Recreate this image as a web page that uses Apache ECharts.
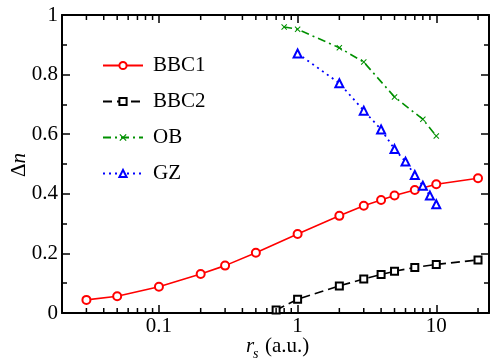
<!DOCTYPE html>
<html>
<head>
<meta charset="utf-8">
<script src="https://cdn.jsdelivr.net/npm/echarts@6/dist/echarts.min.js"></script>
<style>html,body{margin:0;padding:0;background:#fff}#c{width:490px;height:360px}</style>
</head>
<body>
<div id="c"></div>
<script>
// ---- data ----
var bbc1X = [0.03, 0.05, 0.1, 0.2, 0.3, 0.5, 1, 2, 3, 4, 5, 7, 10, 20];
var bbc1Y = [0.044, 0.056, 0.088, 0.131, 0.159, 0.202, 0.265, 0.326, 0.360, 0.379, 0.394, 0.413, 0.432, 0.452];
var bbc2X = [0.7, 1, 2, 3, 4, 5, 7, 10, 20];
var bbc2Y = [0.010, 0.046, 0.091, 0.114, 0.129, 0.140, 0.153, 0.163, 0.178];
var obX = [0.8, 1, 2, 3, 5, 8, 10];
var obY = [0.960, 0.952, 0.890, 0.842, 0.725, 0.650, 0.594];
var gzX = [1, 2, 3, 4, 5, 6, 7, 8, 9, 10];
var gzY = [0.871, 0.771, 0.679, 0.616, 0.550, 0.508, 0.463, 0.427, 0.394, 0.365];
var seriesNames = ['BBC1', 'BBC2', 'OB', 'GZ'];
var xTickValues = [0.1, 1, 10];
var xTickLabels = ['0.1', '1', '10'];
var xMinorTicks = [0.03, 0.04, 0.05, 0.06, 0.07, 0.08, 0.09, 0.2, 0.3, 0.4, 0.5, 0.6, 0.7, 0.8, 0.9, 2, 3, 4, 5, 6, 7, 8, 9, 20];
var yTickValues = [0, 0.2, 0.4, 0.6, 0.8, 1];
var yTickLabels = ['0', '0.2', '0.4', '0.6', '0.8', '1'];

function zip(xs, ys) { return xs.map(function (x, i) { return [x, ys[i]]; }); }

var FONT = 'Liberation Serif';
var chart = echarts.init(document.getElementById('c'), null, { renderer: 'canvas' });

function xFmt(v) {
  for (var i = 0; i < xTickValues.length; i++) {
    if (Math.abs(Math.log10(v) - Math.log10(xTickValues[i])) < 1e-6) return xTickLabels[i];
  }
  return '';
}
function yFmt(v) {
  for (var i = 0; i < yTickValues.length; i++) {
    if (Math.abs(v - yTickValues[i]) < 1e-6) return yTickLabels[i];
  }
  return '';
}

var axisLine = { show: true, onZero: false, lineStyle: { color: '#000', width: 2 } };
var xPath = 'path://M0,1.2 L1.2,0 L5,3.8 L8.8,0 L10,1.2 L6.2,5 L10,8.8 L8.8,10 L5,6.2 L1.2,10 L0,8.8 L3.8,5 Z';

var option = {
  animation: false,
  backgroundColor: '#fff',
  grid: { left: 62, right: 1, top: 15, bottom: 47, containLabel: false },
  legend: {
    data: seriesNames,
    orient: 'vertical',
    left: 97,
    top: 50,
    itemWidth: 40,
    itemHeight: 9,
    itemGap: 15,
    textStyle: { fontFamily: FONT, fontSize: 21, color: '#000', padding: [0, 0, 0, 5] }
  },
  xAxis: [
    {
      type: 'log', logBase: 10, min: 0.02, max: 24, position: 'bottom',
      axisLine: axisLine,
      axisTick: { show: true, inside: true, length: 8, lineStyle: { color: '#000', width: 1.5 } },
      axisLabel: { formatter: xFmt, fontFamily: FONT, fontSize: 21, color: '#000', margin: 3, showMinLabel: false, showMaxLabel: false },
      splitLine: { show: false }
    },
    {
      type: 'log', logBase: 10, min: 0.02, max: 24, position: 'top',
      axisLine: axisLine,
      axisTick: { show: true, inside: true, length: 8, lineStyle: { color: '#000', width: 1.5 } },
      axisLabel: { show: false },
      splitLine: { show: false }
    }
  ],
  yAxis: [
    {
      type: 'value', min: 0, max: 1, interval: 0.2, position: 'left',
      axisLine: axisLine,
      axisTick: { show: true, inside: true, length: 8, lineStyle: { color: '#000', width: 1.5 } },
      minorTick: { show: true, splitNumber: 2, length: 5, lineStyle: { color: '#000', width: 1.5 } },
      axisLabel: { formatter: yFmt, fontFamily: FONT, fontSize: 21, color: '#000', margin: 4 },
      splitLine: { show: false }
    },
    {
      type: 'value', min: 0, max: 1, interval: 0.2, position: 'right',
      axisLine: axisLine,
      axisTick: { show: true, inside: true, length: 8, lineStyle: { color: '#000', width: 1.5 } },
      minorTick: { show: true, splitNumber: 2, length: 5, lineStyle: { color: '#000', width: 1.5 } },
      axisLabel: { show: false },
      splitLine: { show: false }
    }
  ],
  series: [
    {
      name: 'BBC1', type: 'line', data: zip(bbc1X, bbc1Y),
      symbol: 'emptyCircle', symbolSize: 8,
      lineStyle: { color: '#ff0000', width: 1.6, type: 'solid' },
      itemStyle: { color: '#ff0000', borderColor: '#ff0000', borderWidth: 1.6 }
    },
    {
      name: 'BBC2', type: 'line', data: zip(bbc2X, bbc2Y),
      symbol: 'emptyRect', symbolSize: 7,
      lineStyle: { color: '#000', width: 1.6, type: [9, 5] },
      itemStyle: { color: '#000', borderColor: '#000', borderWidth: 1.3 }
    },
    {
      name: 'OB', type: 'line', data: zip(obX, obY),
      symbol: xPath, symbolSize: 6,
      lineStyle: { color: '#009000', width: 1.6, type: [8, 4, 2, 4] },
      itemStyle: { color: '#009000' }
    },
    {
      name: 'GZ', type: 'line', data: zip(gzX, gzY),
      symbol: 'emptyTriangle', symbolSize: 8,
      lineStyle: { color: '#0000ff', width: 1.8, type: [2, 4] },
      itemStyle: { color: '#0000ff', borderColor: '#0000ff', borderWidth: 1.5 }
    },
    {
      name: 'minorX', type: 'custom', silent: true, clip: false, z: 10,
      data: xMinorTicks.map(function (v) { return [v, 0]; }),
      encode: { x: 0, y: 1 },
      renderItem: function (params, api) {
        var v = api.value(0);
        var b = api.coord([v, 0]);
        var t = api.coord([v, 1]);
        var st = { stroke: '#000', lineWidth: 1.5 };
        return {
          type: 'group',
          children: [
            { type: 'line', shape: { x1: b[0], y1: b[1], x2: b[0], y2: b[1] - 5 }, style: st },
            { type: 'line', shape: { x1: t[0], y1: t[1], x2: t[0], y2: t[1] + 5 }, style: st }
          ]
        };
      }
    }
  ],
  graphic: [
    { type: 'text', left: 246, top: 336, style: { text: 'r', font: 'italic 21px ' + FONT, fill: '#000' } },
    { type: 'text', left: 253, top: 347, style: { text: 's', font: 'italic 14px ' + FONT, fill: '#000' } },
    { type: 'text', left: 265, top: 336, style: { text: '(a.u.)', font: '21px ' + FONT, fill: '#000' } },
    {
      type: 'text', x: 9, y: 177, rotation: Math.PI / 2,
      style: {
        text: '{d|Δ}{n|n}',
        rich: {
          d: { font: '21px ' + FONT, fill: '#000' },
          n: { font: 'italic 21px ' + FONT, fill: '#000' }
        }
      }
    }
  ]
};
chart.setOption(option);
</script>
</body>
</html>
